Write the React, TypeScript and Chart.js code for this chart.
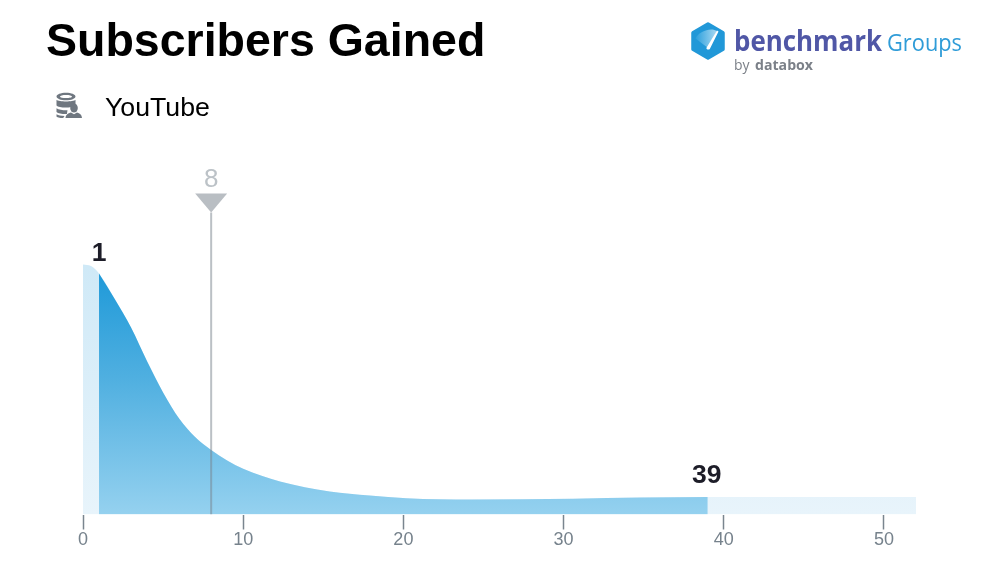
import React, { useEffect, useRef } from "react";
import { Chart, registerables } from "chart.js";

Chart.register(...registerables);

const FONT = '"Liberation Sans", Arial, sans-serif';
const LOGO_FONT = '"Open Sans", "Noto Sans", sans-serif';

const TITLE = "Subscribers Gained";
const SOURCE = "YouTube";

// Distribution curve, as a percentage of its peak
const curveX = [0, 0.5, 1, 2, 3, 4, 5, 6, 7, 8, 9, 10, 12.3, 15.4, 17.9, 20.2, 24.3, 30.6, 34.8, 39, 52];
const curveY = [100, 99.4, 96.4, 86, 74.8, 61.3, 48.8, 38.4, 31, 25.8, 21.6, 18.3, 13.2, 9.2, 7.6, 6.5, 6, 6.3, 6.8, 7, 7];

const rangeLow = 1;
const rangeHigh = 39;
const median = 8;
const medianTop = 120.8;
const axisMax = 140;
const xMin = 0;
const xMax = 52;
const xStep = 10;

const gradient = (chart: Chart, stops: [number, string][]) => {
  const area = chart.chartArea;
  if (!area) return stops[0][1];
  const y0 = chart.scales.y.getPixelForValue(100);
  const g = chart.ctx.createLinearGradient(0, y0, 0, area.bottom);
  stops.forEach(([o, c]) => g.addColorStop(o, c));
  return g;
};

const annotations = {
  id: "annotations",
  afterDatasetsDraw(chart: Chart) {
    const { ctx, scales } = chart;
    const xs = scales.x;
    const ys = scales.y;
    ctx.save();
    const mx = xs.getPixelForValue(median);
    const my = ys.getPixelForValue(medianTop);
    ctx.fillStyle = "#b9bec3";
    ctx.beginPath();
    ctx.moveTo(mx - 16, my - 19);
    ctx.lineTo(mx + 16, my - 19);
    ctx.lineTo(mx, my);
    ctx.closePath();
    ctx.fill();
    ctx.textAlign = "center";
    ctx.textBaseline = "alphabetic";
    ctx.font = `26px ${FONT}`;
    ctx.fillStyle = "#bcc2c7";
    ctx.fillText(String(median), mx, my - 26);
    ctx.font = `bold 26.500px ${FONT}`;
    ctx.fillStyle = "#1d1d28";
    ctx.fillText(String(rangeLow), xs.getPixelForValue(rangeLow), ys.getPixelForValue(96.4) - 13);
    ctx.fillText(String(rangeHigh), xs.getPixelForValue(rangeHigh) - 1, ys.getPixelForValue(7) - 14);
    ctx.restore();
  },
};

export default function App() {
  const ref = useRef<HTMLCanvasElement>(null);

  useEffect(() => {
    const pts = curveX.map((x, i) => ({ x, y: curveY[i] }));
    const chart = new Chart(ref.current!, {
      type: "line",
      data: {
        datasets: [
          {
            data: [{ x: median, y: 0 }, { x: median, y: medianTop }],
            borderColor: "rgba(120,130,140,0.5)",
            borderWidth: 2,
            pointRadius: 0,
            fill: false,
          },
          {
            data: pts.filter((p) => p.x >= rangeLow && p.x <= rangeHigh),
            borderWidth: 0,
            pointRadius: 0,
            cubicInterpolationMode: "monotone",
            fill: "origin",
            backgroundColor: (c: any) =>
              gradient(c.chart, [
                [0, "#1b98d8"],
                [0.45, "#4fafe0"],
                [1, "#95d1ef"],
              ]),
          },
          {
            data: pts,
            borderWidth: 0,
            pointRadius: 0,
            cubicInterpolationMode: "monotone",
            fill: "origin",
            backgroundColor: (c: any) =>
              gradient(c.chart, [
                [0, "#cfe9f7"],
                [1, "#e8f4fb"],
              ]),
          },
        ],
      },
      options: {
        animation: false,
        responsive: false,
        parsing: { xAxisKey: "x", yAxisKey: "y" },
        layout: { padding: { left: 83, right: 84, top: 164.5, bottom: 0 } },
        plugins: { legend: { display: false }, tooltip: { enabled: false } },
        scales: {
          x: {
            type: "linear",
            min: xMin,
            max: xMax,
            afterFit: (s: any) => {
              s.height = 48.5;
            },
            border: { display: false },
            grid: { drawOnChartArea: false, drawTicks: true, tickLength: 15, tickColor: "#7a858f", tickWidth: 1.5 },
            ticks: {
              stepSize: xStep,
              includeBounds: false,
              autoSkip: false,
              maxRotation: 0,
              padding: 0,
              color: "#76828c",
              font: { family: FONT, size: 18 },
            },
          },
          y: { display: false, min: 0, max: axisMax },
        },
      },
      plugins: [annotations],
    } as any);
    return () => chart.destroy();
  }, []);

  return (
    <div style={{ position: "absolute", left: 0, top: 0, width: 1000, height: 563, overflow: "hidden", background: "#fff" }}>
      <canvas ref={ref} width={1000} height={563} style={{ position: "absolute", left: 0, top: 0 }} />
      <svg width={1000} height={563} style={{ position: "absolute", left: 0, top: 0, pointerEvents: "none" }}>
        <defs>
          <linearGradient id="hexGlow" x1="0" x2="1" y1="0" y2="0">
            <stop offset="0" stopColor="#2b9fdc" />
            <stop offset="1" stopColor="#a9d9f2" />
          </linearGradient>
        </defs>
        <text x={46} y={56} fontFamily={FONT} fontWeight="bold" fontSize={46.500} fill="#000">{TITLE}</text>
        <text x={105} y={116} fontFamily={FONT} fontSize={26.700} fill="#000">{SOURCE}</text>

        {/* data-source icon */}
        <g fill="#6f7780">
          <path fillRule="evenodd" d="M66 92.700c5.300 0 9.500 1.700 9.500 3.800s-4.200 3.800-9.500 3.800-9.500-1.700-9.500-3.800 4.200-3.800 9.500-3.800zm0 2.200c-3.300 0-6 .7-6 1.600s2.700 1.600 6 1.600 6-.7 6-1.600-2.700-1.600-6-1.600z" />
          <path d="M56.500 99.800c2 2.300 17 2.300 19 0v4.500c-2 .5-3.500 1.300-4.200 2.600-5 1-13 .6-14.800-1.500z" />
          <path d="M56.500 108.200c2.500 1.700 7.500 2.200 11 2l-.6 3.800c-4 .2-8.700-.4-10.400-2z" />
          <path d="M56.500 114.300c1.800 1 4.500 1.600 8 1.800l-1.300 2c-3.500 0-6.700-.7-6.700-1.800z" />
          <ellipse cx={74} cy={108} rx={3.800} ry={4.600} />
          <path d="M65.500 118c.2-3.500 2.800-5 5.500-5.600l3 1.800 3-1.800c2.700.6 4.800 2.100 5 5.600z" />
        </g>

        {/* logo */}
        <path d="M708 24l15 8.700v16.600l-15 8.700-15-8.700v-16.600z" fill="#2198d8" stroke="#2198d8" strokeWidth={3.500} strokeLinejoin="round" />
        <path d="M708 48L695.500 38.500C699 31 711 27 717 31z" fill="url(#hexGlow)" />
        <path d="M706.500 47.800l10.500-17.300 1.500.9-8.700 17.500c-1.300 1.500-4 .3-3.300-1.100z" fill="#fff" />
        <text x={734} y={50.500} fontFamily={LOGO_FONT} fontWeight="bold" fontSize={29} fill="#5057a6" textLength={148} lengthAdjust="spacingAndGlyphs">benchmark</text>
        <text x={887} y={50.500} fontFamily={LOGO_FONT} fontSize={24} fill="#2f9cd8" textLength={75} lengthAdjust="spacingAndGlyphs">Groups</text>
        <text x={734} y={69.500} fontFamily={LOGO_FONT} fontSize={14} fill="#7b8088">by</text>
        <text x={755} y={69.500} fontFamily={LOGO_FONT} fontWeight="bold" fontSize={14} fill="#7b8088" textLength={58} lengthAdjust="spacingAndGlyphs">databox</text>
      </svg>
    </div>
  );
}
